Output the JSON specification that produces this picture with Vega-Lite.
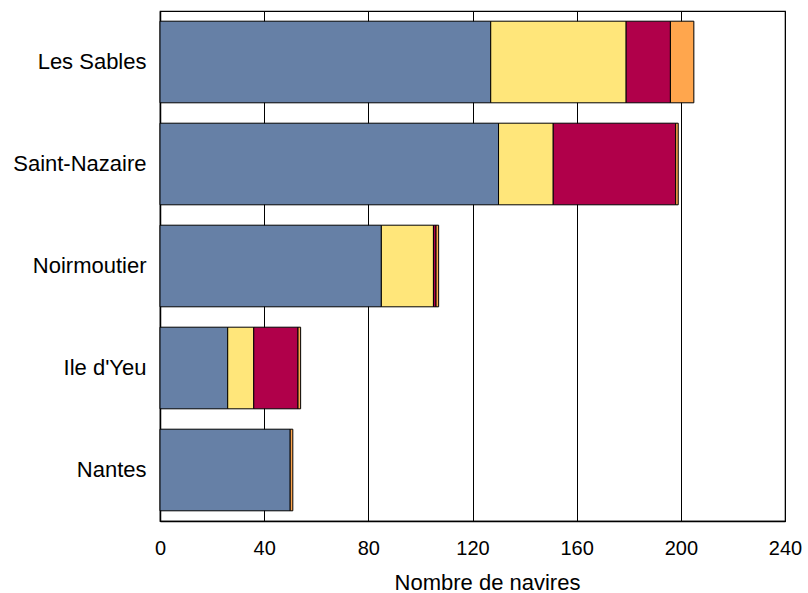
{
  "$schema": "https://vega.github.io/schema/vega-lite/v6.json",
  "width": 625,
  "height": 510,
  "autosize": {"type": "none"},
  "padding": {"left": 160, "top": 11, "right": 23, "bottom": 72},
  "background": "white",
  "config": {
    "view": {"stroke": "black", "strokeWidth": 1.2},
    "font": "Liberation Sans",
    "axis": {
      "labelFont": "Liberation Sans",
      "titleFont": "Liberation Sans",
      "labelColor": "black",
      "titleColor": "black",
      "labelFontSize": 20,
      "titleFontSize": 22,
      "titleFontWeight": "normal",
      "domainColor": "black",
      "domainWidth": 1.5,
      "ticks": false
    }
  },
  "data": {
    "values": [
      {"port": "Les Sables", "type": "A", "k": 1, "value": 127},
      {"port": "Les Sables", "type": "B", "k": 2, "value": 52},
      {"port": "Les Sables", "type": "C", "k": 3, "value": 17},
      {"port": "Les Sables", "type": "D", "k": 4, "value": 9},
      {"port": "Saint-Nazaire", "type": "A", "k": 1, "value": 130},
      {"port": "Saint-Nazaire", "type": "B", "k": 2, "value": 21},
      {"port": "Saint-Nazaire", "type": "C", "k": 3, "value": 47},
      {"port": "Saint-Nazaire", "type": "D", "k": 4, "value": 1},
      {"port": "Noirmoutier", "type": "A", "k": 1, "value": 85},
      {"port": "Noirmoutier", "type": "B", "k": 2, "value": 20},
      {"port": "Noirmoutier", "type": "C", "k": 3, "value": 1},
      {"port": "Noirmoutier", "type": "D", "k": 4, "value": 1},
      {"port": "Ile d'Yeu", "type": "A", "k": 1, "value": 26},
      {"port": "Ile d'Yeu", "type": "B", "k": 2, "value": 10},
      {"port": "Ile d'Yeu", "type": "C", "k": 3, "value": 17},
      {"port": "Ile d'Yeu", "type": "D", "k": 4, "value": 1},
      {"port": "Nantes", "type": "A", "k": 1, "value": 50},
      {"port": "Nantes", "type": "D", "k": 4, "value": 1}
    ]
  },
  "mark": {"type": "bar", "stroke": "black", "strokeWidth": 1},
  "encoding": {
    "y": {
      "field": "port",
      "type": "nominal",
      "sort": ["Les Sables", "Saint-Nazaire", "Noirmoutier", "Ile d'Yeu", "Nantes"],
      "scale": {"paddingInner": 0.2, "paddingOuter": 0.1},
      "axis": {"title": null, "labelPadding": 14, "labelFontSize": 22, "grid": false}
    },
    "x": {
      "field": "value",
      "type": "quantitative",
      "aggregate": "sum",
      "stack": "zero",
      "scale": {"domain": [0, 240], "nice": false},
      "axis": {
        "title": "Nombre de navires",
        "values": [0, 40, 80, 120, 160, 200, 240],
        "labelFlush": false,
        "labelOverlap": false,
        "grid": true,
        "gridColor": "black",
        "gridWidth": 1,
        "gridOpacity": 1,
        "labelPadding": 17,
        "titlePadding": 14,
        "titleX": 327
      }
    },
    "color": {
      "field": "type",
      "type": "nominal",
      "scale": {"domain": ["A", "B", "C", "D"], "range": ["#6680A6", "#FFE67A", "#B0004A", "#FFA64D"]},
      "legend": null
    },
    "order": {"field": "k", "type": "quantitative"}
  }
}
